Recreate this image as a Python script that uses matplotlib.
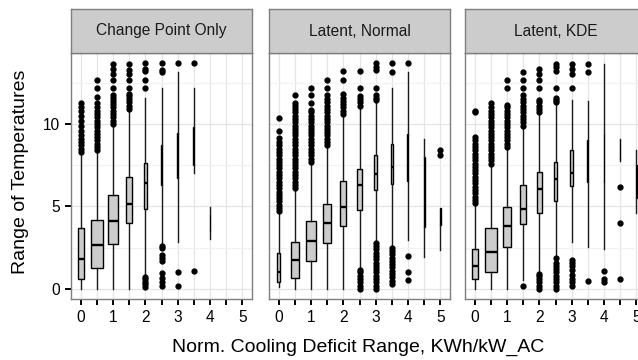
import numpy as np
import matplotlib
matplotlib.use('Agg')
import matplotlib.pyplot as plt

plt.rcParams['font.family'] = ['Liberation Sans', 'DejaVu Sans']

cats = [0, 0.5, 1, 1.5, 2, 2.5, 3, 3.5, 4, 4.5, 5]
xtick_labels = ['0', '', '1', '', '2', '', '3', '', '4', '', '5']
panels = ['Change Point Only', 'Latent, Normal', 'Latent, KDE']

## Change Point Only (nothing at x=5)
cp_lo = [0, 0, 0, 0, 0.85, 2.77, 2.83, 7.01, 3.01, 4.69]
cp_q1 = [0.61, 1.29, 2.72, 3.97, 4.85, 6.30, 6.71, 7.52, 3.5, 4.69]
cp_med = [1.82, 2.64, 4.10, 5.17, 6.44, 7.2, 8.0, 8.6, 4.0, 4.69]
cp_q3 = [3.67, 4.16, 5.67, 6.76, 7.62, 8.73, 9.43, 9.84, 4.5, 4.69]
cp_hi = [8.25, 8.31, 9.93, 10.84, 11.56, 12.16, 13.13, 12.16, 4.99, 4.69]
cp_width = [0.19, 0.39, 0.29, 0.18, 0.10, 0.06, 0.04, 0.03, 0.015, 0.015]
cp_out = [
    [8.3, 8.5, 8.7, 8.9, 9.1, 9.3, 9.6, 9.9, 10.2, 10.5, 10.8, 11.0, 11.28],
    [8.4, 8.6, 8.8, 9.0, 9.2, 9.4, 9.6, 9.8, 10.0, 10.2, 10.4, 10.6, 10.8, 11.0, 11.24, 11.64, 12.15, 12.65],
    [10.0, 10.2, 10.4, 10.6, 10.8, 11.0, 11.2, 11.4, 11.6, 11.74, 12.15, 12.65, 13.05, 13.36, 13.66],
    [10.9, 11.1, 11.3, 11.5, 11.7, 11.84, 12.15, 12.65, 13.05, 13.26, 13.66],
    [0.14, 0.3, 0.45, 0.6, 0.75, 12.16, 12.67, 13.2, 13.3, 13.68],
    [0.2, 0.4, 0.69, 0.95, 1.7, 1.86, 2.06, 2.46, 2.63, 13.17, 13.27, 13.68],
    [0.2, 1.01, 13.68],
    [1.09, 13.68],
    [],
    [],
]

## Latent, Normal
ln_lo = [0.14, 0, 0, 0, 0, 1.2, 2.87, 2.57, 2.97, 1.96, 2.36]
ln_q1 = [0.44, 0.69, 1.69, 2.76, 3.81, 4.76, 6.0, 6.34, 6.55, 3.78, 3.88]
ln_med = [1.01, 1.76, 2.91, 4.02, 4.98, 6.30, 6.95, 7.41, 7.9, 6.0, 4.4]
ln_q3 = [2.16, 2.87, 4.12, 5.15, 6.52, 7.24, 8.12, 8.77, 9.37, 8.02, 4.89]
ln_hi = [4.58, 5.99, 7.61, 8.62, 10.47, 10.94, 11.31, 12.16, 13.13, 9.09, 4.89]
ln_width = [0.09, 0.25, 0.29, 0.25, 0.19, 0.15, 0.10, 0.05, 0.03, 0.03, 0.02]
ln_out = [
    [4.7, 4.9, 5.1, 5.3, 5.5, 5.7, 5.9, 6.1, 6.3, 6.5, 6.7, 6.9, 7.1, 7.3, 7.5, 7.7, 7.9, 8.1, 8.3, 8.5,
     8.7, 8.9, 9.12, 9.58, 10.37],
    [6.1, 6.3, 6.5, 6.7, 6.9, 7.1, 7.3, 7.5, 7.7, 7.9, 8.1, 8.3, 8.5, 8.7, 8.9, 9.1, 9.3, 9.5, 9.7, 9.9,
     10.1, 10.3, 10.5, 10.7, 10.9, 11.1, 11.24, 11.74],
    [7.7, 7.9, 8.1, 8.3, 8.5, 8.7, 8.9, 9.1, 9.3, 9.5, 9.7, 9.9, 10.1, 10.3, 10.5, 10.7, 10.84, 11.24,
     11.74, 12.19],
    [8.7, 8.9, 9.1, 9.3, 9.5, 9.7, 9.9, 10.1, 10.3, 10.5, 10.7, 10.9, 11.1, 11.3, 11.5, 11.74, 12.15, 12.65],
    [10.6, 10.8, 11.0, 11.2, 11.4, 11.6, 11.84, 12.65, 13.22],
    [0.0, 0.2, 0.4, 0.6, 0.8, 1.0, 1.15, 11.1, 11.3, 11.5, 11.7, 12.15, 13.22],
    [0.0, 0.2, 0.4, 0.6, 0.8, 1.0, 1.2, 1.4, 1.6, 1.8, 2.0, 2.2, 2.4, 2.6, 2.8, 11.45, 11.6, 11.76,
     12.16, 13.27, 13.45, 13.68],
    [0.3, 0.5, 0.7, 0.9, 1.1, 1.3, 1.5, 1.7, 1.9, 2.1, 2.3, 2.5, 13.17, 13.68],
    [0.55, 1.05, 2.0, 13.68],
    [],
    [8.12, 8.42],
]

## Latent, KDE
kde_lo = [0, 0, 0, 0.55, 1.0, 1.86, 2.87, 2.56, 2.40, 7.77, 4.58]
kde_q1 = [0.59, 1.05, 2.56, 3.91, 4.60, 5.35, 6.23, 6.50, 6.50, 7.9, 5.5]
kde_med = [1.39, 2.24, 3.81, 4.84, 6.03, 6.68, 7.0, 7.7, 8.0, 8.5, 6.5]
kde_q3 = [2.40, 3.67, 4.98, 6.32, 7.06, 7.67, 8.41, 9.02, 9.38, 9.0, 7.5]
kde_hi = [5.08, 7.51, 8.51, 9.83, 10.67, 11.24, 11.48, 11.38, 13.66, 9.08, 8.41]
kde_width = [0.19, 0.35, 0.25, 0.19, 0.15, 0.12, 0.08, 0.04, 0.02, 0.02, 0.02]
kde_out = [
    [5.2, 5.4, 5.6, 5.8, 6.0, 6.2, 6.4, 6.6, 6.8, 7.0, 7.2, 7.4, 7.6, 7.8, 8.0, 8.2, 8.4, 8.6, 8.8, 9.0,
     9.22, 10.7, 10.79],
    [7.6, 7.8, 8.0, 8.2, 8.4, 8.6, 8.8, 9.0, 9.2, 9.4, 9.6, 9.8, 10.0, 10.2, 10.4, 10.6, 10.8, 11.0, 11.24],
    [8.6, 8.8, 9.0, 9.2, 9.4, 9.6, 9.8, 10.0, 10.2, 10.4, 10.6, 10.8, 11.0, 11.14, 12.15, 12.65],
    [0.2, 9.9, 10.1, 10.3, 10.5, 10.7, 10.9, 11.1, 11.3, 11.5, 11.74, 12.15, 12.65, 13.15],
    [0.0, 0.2, 0.4, 0.6, 0.8, 0.9, 10.7, 10.9, 11.1, 11.3, 11.44, 12.15, 12.65, 13.05, 13.3],
    [0.0, 0.2, 0.4, 0.6, 0.8, 1.0, 1.2, 1.4, 1.6, 1.86, 11.3, 11.45, 11.6, 12.15, 13.22, 13.46, 13.66],
    [0.18, 0.44, 0.59, 0.85, 1.15, 1.39, 1.59, 1.76, 12.15, 13.05, 13.3, 13.66],
    [0.5, 13.12, 13.66],
    [0.44, 0.59, 1.11],
    [0.59, 4.02, 6.15],
    [],
]

W, H = 638, 360
fig = plt.figure(figsize=(W / 100, H / 100), dpi=100)
border = '#7f7f7f'


def draw_panel(left, title, lo, q1, med, q3, hi, widths, fliers, first):
    ax = fig.add_axes([left / W, 61 / H, 181 / W, 246 / H])
    stats = []
    for i in range(len(lo)):
        stats.append(dict(whislo=lo[i], q1=q1[i], med=med[i], q3=q3[i], whishi=hi[i], fliers=fliers[i]))
    ax.bxp(stats, positions=cats[:len(lo)], widths=widths, patch_artist=True, showcaps=False,
           manage_ticks=False,
           boxprops=dict(facecolor='#cccccc', edgecolor='black', linewidth=1.0),
           medianprops=dict(color='black', linewidth=1.7),
           whiskerprops=dict(color='#1a1a1a', linewidth=1.0),
           flierprops=dict(marker='o', markerfacecolor='black', markeredgecolor='black',
                           markersize=3.5, linestyle='none'))
    ax.set_xlim(-0.3, 5.3)
    ax.set_ylim(-0.61, 14.3)
    ax.set_xticks(cats)
    ax.set_xticklabels(xtick_labels)
    ax.set_yticks([0, 5, 10])
    ax.set_yticks([2.5, 7.5, 12.5], minor=True)
    ax.grid(True, which='major', color='#e5e5e5', linewidth=0.9)
    ax.grid(True, which='minor', axis='y', color='#f2f2f2', linewidth=0.9)
    ax.set_axisbelow(True)
    ax.tick_params(which='major', length=4.5, width=1.4, color='black', labelsize=11.2,
                   labelcolor='black', pad=3.5)
    ax.tick_params(which='minor', length=0)
    if not first:
        ax.tick_params(axis='y', left=False, labelleft=False)
    for s in ax.spines.values():
        s.set_color(border)
        s.set_linewidth(1.0)

    # facet strip
    sax = fig.add_axes([left / W, (H - 53) / H, 181 / W, 44 / H])
    sax.set_facecolor('#cccccc')
    sax.set_xticks([])
    sax.set_yticks([])
    for s in sax.spines.values():
        s.set_color(border)
        s.set_linewidth(1.0)
    sax.text(0.5, 0.5, title, ha='center', va='center', fontsize=11.2, color='#1a1a1a',
             transform=sax.transAxes)
    return ax


draw_panel(71, panels[0], cp_lo, cp_q1, cp_med, cp_q3, cp_hi, cp_width, cp_out, True)
draw_panel(269, panels[1], ln_lo, ln_q1, ln_med, ln_q3, ln_hi, ln_width, ln_out, False)
draw_panel(465, panels[2], kde_lo, kde_q1, kde_med, kde_q3, kde_hi, kde_width, kde_out, False)

fig.text(358 / W, 1 - 347 / H, 'Norm. Cooling Deficit Range, KWh/kW_AC', ha='center', va='center',
         fontsize=14)
fig.text(21 / W, 1 - 172 / H, 'Range of Temperatures', ha='center', va='center', rotation=90,
         fontsize=14)

fig.savefig('out.png', dpi=100)
